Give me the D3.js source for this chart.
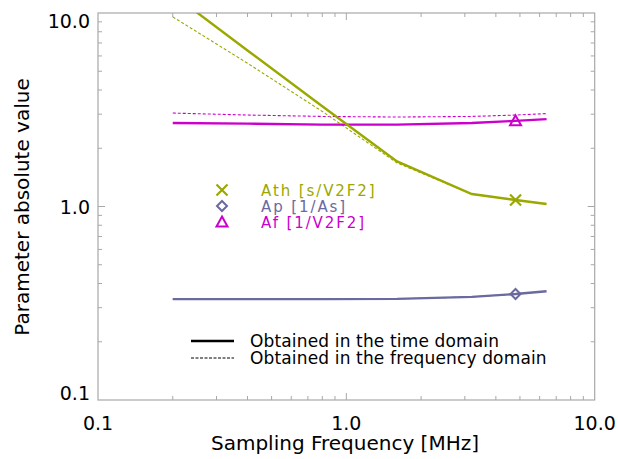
<!DOCTYPE html>
<html><head><meta charset="utf-8">
<script src="https://cdn.jsdelivr.net/npm/d3@7"></script>
<style>body{margin:0;background:#fff}svg{display:block}text{font-family:"DejaVu Sans",sans-serif}</style>
</head><body><svg id="c" width="618" height="459"></svg>
<script>
const freq = [0.2, 0.4, 0.8, 1.6, 3.2, 4.8, 6.4];
const athTime = [12.5, 6.4, 3.3, 1.71, 1.16, 1.08, 1.03];
const athFreq = [9.55, 5.5, 3.1, 1.68, 1.16, 1.08, 1.03];
const apTime = [0.332, 0.332, 0.332, 0.333, 0.341, 0.353, 0.365];
const apFreq = [0.332, 0.332, 0.332, 0.333, 0.341, 0.353, 0.365];
const afTime = [2.70, 2.68, 2.65, 2.65, 2.70, 2.77, 2.83];
const afFreq = [3.04, 2.97, 2.92, 2.90, 2.92, 2.97, 3.02];
const markerFreq = 4.8;
const seriesNames = ["Ath [s/V2F2]", "Ap [1/As]", "Af [1/V2F2]"];
const domainNames = ["Obtained in the time domain", "Obtained in the frequency domain"];
const xTicks = [0.1, 1, 10];
const yTicks = [0.1, 1, 10];
const tickLabels = ["0.1", "1.0", "10.0"];

const colors = {ath: "#9aa800", ap: "#6a6aa0", af: "#cc00cc"};
const svg = d3.select("#c");
const L = 98, R = 594.7, T = 13, B = 400;
const x = d3.scaleLog().domain([0.1, 10]).range([L, R]);
const y = d3.scaleLog().domain([0.1, 10]).range([B, T]);
const axisCol = "#a8a8a8";

svg.append("defs").append("clipPath").attr("id", "pc")
  .append("rect").attr("x", L).attr("y", T).attr("width", R - L).attr("height", B - T);

// frame
svg.append("rect").attr("x", L).attr("y", T).attr("width", R - L).attr("height", B - T)
  .attr("fill", "none").attr("stroke", axisCol).attr("stroke-width", 1.2);

// ticks
const minor = [];
[0.1, 1].forEach(d => { for (let k = 2; k <= 9; k++) minor.push(d * k); });
const g = svg.append("g").attr("stroke", axisCol).attr("stroke-width", 1);
function xt(v, len) {
  g.append("line").attr("x1", x(v)).attr("x2", x(v)).attr("y1", B).attr("y2", B - len);
  g.append("line").attr("x1", x(v)).attr("x2", x(v)).attr("y1", T).attr("y2", T + len);
}
function yt(v, len) {
  g.append("line").attr("y1", y(v)).attr("y2", y(v)).attr("x1", L).attr("x2", L + len);
  g.append("line").attr("y1", y(v)).attr("y2", y(v)).attr("x1", R).attr("x2", R - len);
}
minor.forEach(v => { xt(v, 4); yt(v, 4); });
[1].forEach(v => { xt(v, 7); yt(v, 7); });

// tick labels
xTicks.forEach((v, i) => {
  svg.append("text").attr("x", x(v)).attr("y", 430).attr("text-anchor", "middle")
    .attr("font-size", 19).text(tickLabels[i]);
});
yTicks.forEach((v, i) => {
  let yy = y(v);
  yy = Math.max(T + 8, Math.min(B - 7, yy));
  svg.append("text").attr("x", 90).attr("y", yy + 7).attr("text-anchor", "end")
    .attr("font-size", 19).text(tickLabels[i]);
});

// titles
svg.append("text").attr("x", 345).attr("y", 450).attr("text-anchor", "middle")
  .attr("font-size", 20).text("Sampling Frequency [MHz]");
svg.append("text").attr("transform", "translate(29,207) rotate(-90)").attr("text-anchor", "middle")
  .attr("font-size", 20).text("Parameter absolute value");

// lines
const line = d3.line().x((d, i) => x(freq[i])).y(d => y(d));
const pl = svg.append("g").attr("clip-path", "url(#pc)");
function draw(vals, col, solid) {
  pl.append("path").attr("d", line(vals)).attr("fill", "none").attr("stroke", col)
    .attr("stroke-width", solid ? 2.4 : 1.1)
    .attr("stroke-dasharray", solid ? null : "3,2");
}
draw(apFreq, colors.ap, false);
draw(afFreq, colors.af, false);
draw(athFreq, colors.ath, false);
draw(apTime, colors.ap, true);
draw(afTime, colors.af, true);
draw(athTime, colors.ath, true);

// markers
const mi = freq.indexOf(markerFreq);
function cross(cx, cy, col) {
  const s = 5.5;
  svg.append("path").attr("d", `M${cx - s},${cy - s}L${cx + s},${cy + s}M${cx - s},${cy + s}L${cx + s},${cy - s}`)
    .attr("stroke", col).attr("stroke-width", 2.2).attr("fill", "none");
}
function diamond(cx, cy, col) {
  const s = 5;
  svg.append("path").attr("d", `M${cx},${cy - s}L${cx + s},${cy}L${cx},${cy + s}L${cx - s},${cy}Z`)
    .attr("stroke", col).attr("stroke-width", 2).attr("fill", "none");
}
function tri(cx, cy, col) {
  const s = 5.5;
  svg.append("path").attr("d", `M${cx},${cy - s}L${cx + s},${cy + s * 0.8}L${cx - s},${cy + s * 0.8}Z`)
    .attr("stroke", col).attr("stroke-width", 2).attr("fill", "none");
}
cross(x(markerFreq), y(athTime[mi]), colors.ath);
diamond(x(markerFreq), y(apTime[mi]), colors.ap);
tri(x(markerFreq), y(afTime[mi]), colors.af);

// series legend
const lx = 222, ly = [190, 206, 222];
cross(lx, ly[0], colors.ath);
diamond(lx, ly[1], colors.ap);
tri(lx, ly[2], colors.af);
[colors.ath, colors.ap, colors.af].forEach((c, i) => {
  svg.append("text").attr("x", 261).attr("y", ly[i] + 5.5).attr("font-size", 15)
    .attr("letter-spacing", 1.9).attr("fill", c).text(seriesNames[i]);
});

// domain legend
[341, 358].forEach((yy, i) => {
  svg.append("line").attr("x1", 191).attr("x2", 234).attr("y1", yy).attr("y2", yy)
    .attr("stroke", "#000").attr("stroke-width", i === 0 ? 2.4 : 1)
    .attr("stroke-dasharray", i === 0 ? null : "3,1.5");
  svg.append("text").attr("x", 250).attr("y", yy + 6).attr("font-size", 17)
    .attr("letter-spacing", 0.15).text(domainNames[i]);
});
</script></body></html>
